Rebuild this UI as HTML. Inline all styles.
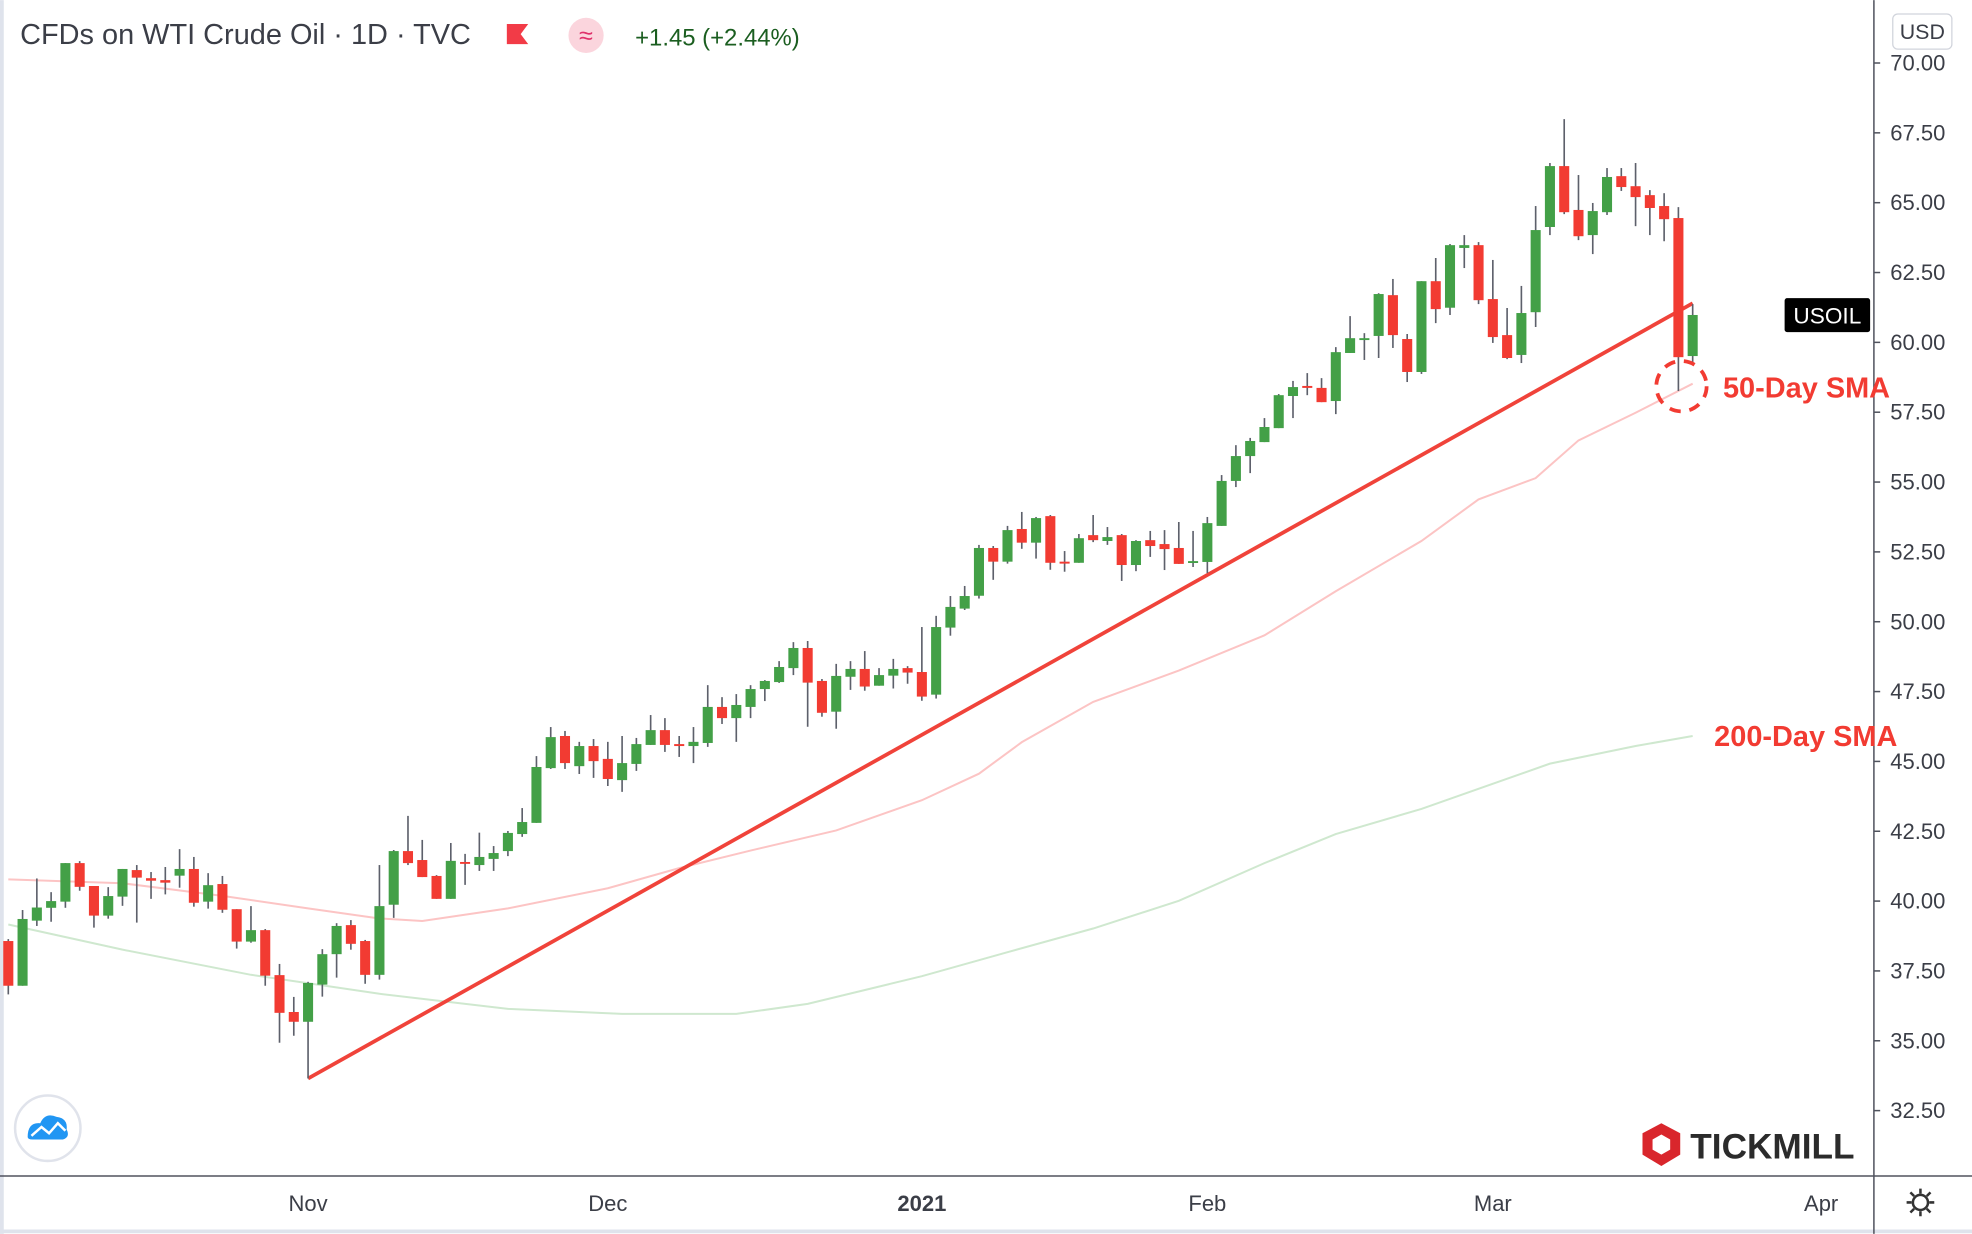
<!DOCTYPE html>
<html><head><meta charset="utf-8"><style>
html,body{margin:0;padding:0;background:#fff;}
svg{display:block;font-family:"Liberation Sans",sans-serif;}
</style></head><body>
<svg id="chart" width="1972" height="1234" viewBox="0 0 1568 981" xmlns="http://www.w3.org/2000/svg">
<rect x="0" y="0" width="1568" height="981" fill="#fff"/>
<line x1="1.5" y1="0" x2="1.5" y2="981" stroke="#dfe3ec" stroke-width="3"/>
<line x1="0" y1="979" x2="1568" y2="979" stroke="#dfe3ec" stroke-width="3"/>
<g id="sma"></g>
<g id="trend"></g>
<g id="candles"></g>
<!-- axes -->
<line x1="1490" y1="0" x2="1490" y2="981" stroke="#50535e" stroke-width="1.2"/>
<line x1="0" y1="935" x2="1568" y2="935" stroke="#50535e" stroke-width="1.2"/>
<g id="yaxis"></g>
<g id="xaxis"></g>
<!-- header -->
<text x="16" y="35" font-size="23" fill="#3b3e47">CFDs on WTI Crude Oil · 1D · TVC</text>
<path d="M403 19 L420 19 L414 27 L420 35 L403 35 Z" fill="#f23b47"/>
<circle cx="466" cy="28" r="14" fill="#fbd5dd"/>
<text x="466" y="35" font-size="20" text-anchor="middle" fill="#e0306a">≈</text>
<text x="505" y="36" font-size="19" fill="#1b5e20">+1.45 (+2.44%)</text>
<rect x="1505" y="11" width="47" height="28" rx="4" fill="#fff" stroke="#d1d4dc"/>
<text x="1528.5" y="31" font-size="17" text-anchor="middle" fill="#3b3e47">USD</text>
<rect x="1419" y="237" width="68" height="27" rx="2" fill="#000"/>
<text x="1453" y="257" font-size="18" text-anchor="middle" fill="#fff">USOIL</text>
<!-- annotations -->
<circle cx="1337" cy="307" r="20" fill="none" stroke="#f23b32" stroke-width="3" stroke-dasharray="9,7"/>
<text x="1370" y="316" font-size="23" font-weight="bold" fill="#f23b32">50-Day SMA</text>
<text x="1363" y="593" font-size="23" font-weight="bold" fill="#f23b32">200-Day SMA</text>
<!-- logos -->
<g>
<circle cx="38" cy="897" r="26" fill="#fff" stroke="#e0e3eb" stroke-width="2"/>
<path d="M22 904 Q22 892 32 893 Q36 884 45 888 Q54 889 53 898 Q56 904 50 906 L26 906 Q22 906 22 904 Z" fill="#2196f3"/>
<path d="M25 903 L33 896 L39 901 L46 893 L52 899" fill="none" stroke="#fff" stroke-width="2"/>
</g>
<g>
<path d="M1321 893 L1336 901 L1336 918 L1321 927 L1306 918 L1306 901 Z" fill="#d9262c"/>
<path d="M1321 902 L1328 906 L1328 914 L1321 918 L1314 914 L1314 906 Z" fill="#fff"/>
<text x="1344" y="921" font-size="28" font-weight="bold" fill="#2b2b2b">TICKMILL</text>
</g>
<g>
<circle cx="1527" cy="956" r="6" fill="none" stroke="#333" stroke-width="2"/>
<path d="M1527 945v4M1527 963v4M1516 956h4M1534 956h4M1519 948l3 3M1532 961l3 3M1519 964l3-3M1532 951l3-3" stroke="#333" stroke-width="2"/>
</g>
</svg>
<script>
const opens=[38.57,36.97,39.30,39.76,39.98,41.36,40.54,39.48,40.16,41.11,40.82,40.75,40.91,41.15,39.98,40.61,39.71,38.55,38.96,37.35,36.03,35.68,37.01,38.10,39.14,38.57,37.36,39.87,41.79,41.47,40.90,40.08,41.40,41.29,41.51,41.79,42.40,42.80,44.76,45.91,44.83,45.55,45.09,44.33,44.91,45.59,46.12,45.62,45.55,45.66,46.95,46.55,46.95,47.59,47.84,48.34,49.06,47.88,46.78,48.03,48.31,47.71,48.07,48.34,48.20,47.39,49.79,50.47,50.93,52.64,52.15,53.32,52.83,53.78,52.15,52.11,53.10,52.89,53.10,52.03,52.92,52.78,52.64,52.14,52.14,53.43,55.04,55.93,56.43,56.93,58.08,58.44,58.37,57.90,59.62,60.12,60.23,61.69,60.12,58.94,62.19,61.24,63.38,63.48,61.55,60.26,59.55,61.08,64.13,66.31,64.74,63.84,64.66,65.95,65.59,65.27,64.88,64.45,59.51];
const highs=[38.64,39.68,40.81,40.32,41.36,41.43,40.54,40.50,41.15,41.29,41.04,41.22,41.86,41.58,41.00,40.90,39.71,39.82,39.00,37.75,36.57,37.11,38.28,39.21,39.32,38.61,41.29,41.83,43.05,42.19,40.93,42.08,41.69,42.45,41.97,42.51,43.33,45.19,46.23,46.09,45.70,45.80,45.70,45.91,45.84,46.66,46.55,45.91,46.23,47.73,47.30,47.41,47.73,47.91,48.59,49.27,49.31,47.95,48.49,48.59,48.95,48.34,48.67,48.41,49.81,50.21,50.92,51.28,52.75,52.71,53.43,53.93,53.75,53.82,52.53,53.14,53.82,53.39,53.14,52.92,53.25,53.28,53.57,53.25,53.75,55.25,56.32,56.58,57.29,58.15,58.62,58.90,58.72,59.83,60.94,60.33,61.76,62.27,60.30,62.19,63.02,63.52,63.84,63.59,62.95,61.23,62.02,64.88,66.42,67.99,65.99,64.99,66.24,66.24,66.42,65.45,65.34,64.84,61.37];
const lows=[36.66,36.97,39.11,39.26,39.76,40.37,39.05,39.37,39.83,39.23,40.08,40.24,40.48,39.80,39.73,39.58,38.30,38.51,36.97,34.93,35.18,33.65,36.58,37.26,38.26,37.04,37.19,39.40,41.29,40.86,40.08,40.08,40.58,41.08,41.08,41.61,42.30,42.80,44.73,44.73,44.55,44.41,44.12,43.91,44.66,45.59,45.34,45.16,44.94,45.52,46.34,45.70,46.55,47.16,47.81,48.09,46.24,46.60,46.17,47.56,47.53,47.71,47.61,47.78,47.17,47.25,49.50,50.42,50.83,51.50,52.08,52.61,52.26,51.86,51.79,52.11,52.85,52.75,51.46,51.81,52.32,51.85,52.07,51.96,51.74,53.43,54.82,55.32,56.43,56.93,57.29,58.11,57.86,57.43,59.62,59.37,59.44,59.80,58.58,58.87,60.69,60.98,62.66,61.37,59.98,59.40,59.26,60.55,63.84,64.59,63.66,63.16,64.56,65.42,64.16,63.84,63.62,58.26,59.19];
const closes=[36.97,39.36,39.77,40.00,41.36,40.51,39.48,40.18,41.15,40.84,40.73,40.66,41.15,39.94,40.57,39.69,38.55,38.96,37.33,36.00,35.68,37.07,38.10,39.11,38.47,37.36,39.82,41.79,41.36,40.86,40.08,41.44,41.35,41.58,41.72,42.44,42.83,44.80,45.87,44.94,45.55,45.01,44.37,44.94,45.62,46.12,45.59,45.55,45.70,46.95,46.55,47.02,47.59,47.88,48.38,49.06,47.82,46.74,48.06,48.31,47.68,48.09,48.31,48.18,47.32,49.81,50.53,50.92,52.64,52.15,53.28,52.83,53.71,52.11,52.08,52.99,52.92,53.03,52.03,52.89,52.71,52.60,52.07,52.17,53.53,55.04,55.93,56.47,56.97,58.11,58.40,58.37,57.86,59.65,60.15,60.15,61.73,60.26,58.94,62.19,61.19,63.48,63.48,61.51,60.19,59.44,61.05,64.02,66.31,64.66,63.80,64.70,65.92,65.56,65.20,64.81,64.41,59.47,60.98];
const sma50Idx=[0,8,15,21,26,29,35,42,47,52,58,64,68,71,76,82,88,93,99,103,107,110,114,118];
const sma50Val=[40.78,40.64,40.19,39.74,39.38,39.29,39.74,40.46,41.18,41.81,42.53,43.61,44.56,45.69,47.13,48.25,49.51,51.09,52.89,54.38,55.14,56.49,57.48,58.52];
const sma200Idx=[0,8,17,26,35,43,51,56,64,70,76,82,88,93,99,103,108,114,118];
const sma200Val=[39.16,38.26,37.36,36.68,36.14,35.96,35.96,36.32,37.31,38.17,39.02,40.01,41.36,42.40,43.30,44.02,44.92,45.55,45.91];
const trendStartIdx=21, trendStartVal=33.65, trendEndIdx=118, trendEndVal=61.40;
const priceTicks=[70,67.5,65,62.5,60,57.5,55,52.5,50,47.5,45,42.5,40,37.5,35,32.5];
const timeLabels=["Nov","Dec","2021","Feb","Mar","Apr"];
const timeLabelIdx=[21,42,64,84,104,127];

const NS="http://www.w3.org/2000/svg";
function yS(p){return 50+(70-p)*22.213;}
function xS(i){return 6.6+i*11.35;}
function mk(tag,attrs,parent){const e=document.createElementNS(NS,tag);for(const k in attrs)e.setAttribute(k,attrs[k]);parent.appendChild(e);return e;}

const cg=document.getElementById('candles');
for(let i=0;i<opens.length;i++){
  const up=closes[i]>=opens[i];
  const col=up?'#43a047':'#f23b32';
  const x=xS(i);
  const g=mk('g',{},cg);
  
  
  const w=mk('line',{x1:x,x2:x,y1:yS(highs[i]),y2:yS(lows[i]),stroke:'#5d606b','stroke-width':1.3},g);
  
  
  const top=yS(Math.max(opens[i],closes[i])),bot=yS(Math.min(opens[i],closes[i]));
  const b=mk('rect',{x:x-4,y:top,width:8,height:Math.max(1.5,bot-top),fill:col},g);
  
  
}
const sg=document.getElementById('sma');
function line(idx,val,col,name){
  const pts=idx.map((d,k)=>xS(d).toFixed(1)+','+yS(val[k]).toFixed(1)).join(' ');
  const p=mk('polyline',{points:pts,fill:'none',stroke:col,'stroke-width':1.6},sg);
  
  
}
line(sma200Idx,sma200Val,'#cfe8cf','sma200-line');
line(sma50Idx,sma50Val,'#fcc4c4','sma50-line');
const tg=document.getElementById('trend');
const tl=mk('line',{x1:xS(trendStartIdx),y1:yS(trendStartVal),x2:xS(trendEndIdx),y2:yS(trendEndVal),stroke:'#f0433a','stroke-width':3},tg);



const ya=document.getElementById('yaxis');
priceTicks.forEach(p=>{
  const t=mk('line',{x1:1490,x2:1495,y1:yS(p),y2:yS(p),stroke:'#50535e','stroke-width':1.2},ya);
  
  
  const tx=mk('text',{x:1503,y:yS(p)+6,'font-size':17.5,fill:'#3b3e47'},ya);
  tx.textContent=p.toFixed(2);
  
  
});
const xa=document.getElementById('xaxis');
timeLabels.forEach((l,k)=>{
  const tx=mk('text',{x:xS(timeLabelIdx[k]),y:963,'font-size':17.5,'text-anchor':'middle',fill:'#3b3e47','font-weight':l==='2021'?'bold':'normal'},xa);
  tx.textContent=l;
  
  
});
</script>
</body></html>
